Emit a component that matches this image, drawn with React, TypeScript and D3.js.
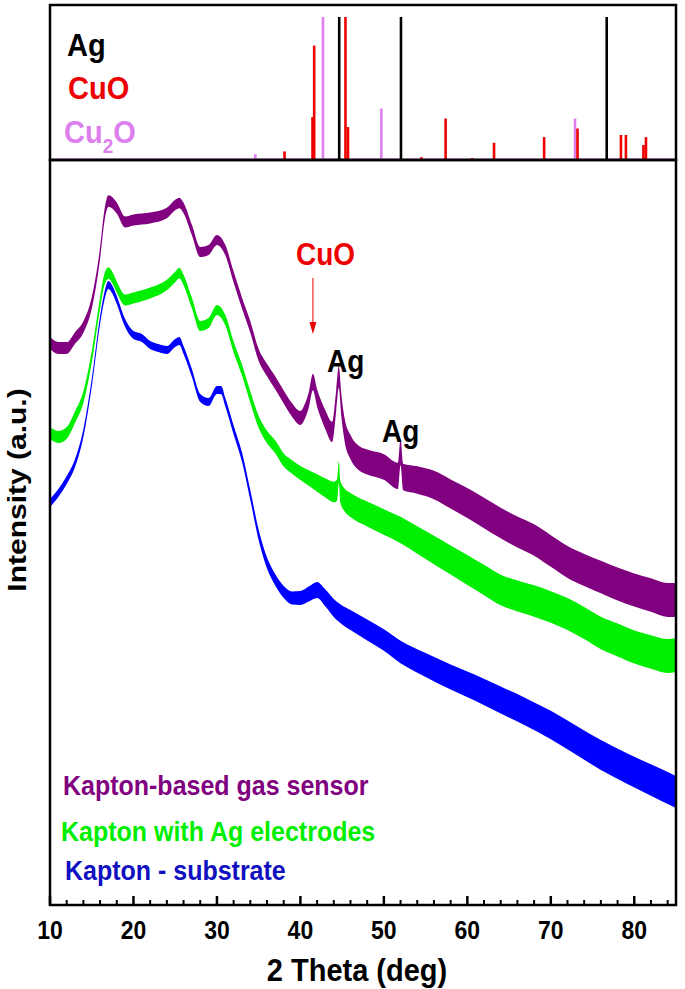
import React from "react";
import * as d3 from "d3";

// ---------- data (2θ in degrees, intensity in a.u.) ----------
const purpleX = [10, 11, 12, 13, 14, 15, 16, 16.5, 17, 17.5, 18, 19, 20, 22, 24, 25, 25.5, 26, 27, 28, 29, 30, 31, 32, 33, 34, 35, 36, 37, 38, 39, 40, 40.5, 41, 41.5, 42, 42.5, 43, 43.8, 44.3, 44.6, 44.9, 45.3, 46, 47, 48, 50, 51.7, 52, 52.3, 54, 56, 58, 60, 62, 64, 66, 68, 70, 72, 74, 76, 78, 80, 82, 84, 85];
const purpleY = [343, 348, 348, 338, 327, 303, 253, 217, 201, 203, 208, 222, 220, 218, 213, 205, 203, 208, 230, 252, 250, 240, 250, 277, 303, 327, 355, 370, 383, 397, 410, 418, 412, 400, 382, 398, 410, 420, 432, 400, 377, 405, 430, 447, 458, 462, 467, 476, 452, 477, 480, 485, 494, 503, 513, 523, 532, 540, 551, 562, 570, 577, 584, 590, 595, 600, 600].map((v) => 905 - v);
const purpleNoiseX = [10, 30, 40, 46, 60, 85];
const purpleNoise = [6, 5, 7, 12, 15, 17];

const greenX = [10, 11, 12, 13, 14, 15, 16, 16.5, 17, 17.5, 18, 19, 20, 22, 24, 25, 25.5, 26, 27, 28, 29, 30, 31, 32, 33, 34, 35, 36, 37, 38, 39, 40, 41, 42, 43, 44, 44.4, 44.6, 44.8, 45.3, 46, 48, 50, 52, 54, 56, 58, 60, 62, 64, 66, 68, 70, 72, 74, 76, 78, 80, 82, 84, 85];
const greenY = [433, 437, 433, 417, 397, 357, 303, 280, 273, 278, 287, 300, 298, 293, 285, 277, 273, 280, 303, 326, 323, 310, 320, 347, 370, 397, 422, 437, 447, 460, 467, 473, 478, 483, 488, 492, 490, 472, 492, 500, 505, 514, 522, 530, 540, 550, 560, 570, 580, 590, 596, 601, 607, 614, 623, 633, 640, 647, 652, 656, 655].map((v) => 905 - v);
const greenNoiseX = [10, 30, 40, 46, 60, 85];
const greenNoise = [6, 5, 7, 12, 15, 17];

const blueX = [10, 11, 12, 13, 14, 15, 16, 16.5, 17, 17.5, 18, 19, 20, 21, 22, 23, 24, 25, 25.5, 26, 27, 28, 29, 30, 30.5, 31, 32, 33, 34, 35, 36, 37, 38, 39, 40, 41, 42, 43, 44, 45, 46, 48, 50, 52, 55, 58, 61, 64, 67, 70, 73, 76, 79, 82, 85];
const blueY = [503, 493, 480, 463, 433, 383, 320, 297, 285, 290, 300, 323, 335, 338, 345, 348, 350, 343, 341, 350, 373, 398, 402, 390, 390, 402, 430, 457, 495, 535, 563, 580, 592, 598, 598, 594, 590, 598, 608, 615, 620, 630, 640, 652, 665, 677, 688, 700, 712, 725, 740, 755, 768, 780, 792].map((v) => 905 - v);
const blueNoiseX = [10, 30, 38, 46, 60, 85];
const blueNoise = [4, 4, 6, 10, 13, 16];

// reference stick patterns (position, relative intensity)
const agPos = [44.65, 52.05, 76.7];
const agInt = [100, 100, 100];
const cuoPos = [38.1, 41.45, 41.65, 45.4, 45.7, 54.5, 57.4, 60.6, 63.2, 69.2, 73.2, 78.4, 79.0, 81.1, 81.4];
const cuoInt = [6, 30, 80, 100, 23, 2, 29, 1.4, 12, 16, 22, 17.5, 17.5, 10.5, 16];
const cu2oPos = [34.6, 42.7, 49.7, 72.9];
const cu2oInt = [4, 100, 36, 29];

const xTicks = [10, 20, 30, 40, 50, 60, 70, 80];
const legendLabels = ["Kapton-based gas sensor", "Kapton with Ag electrodes", "Kapton - substrate"];

const PURPLE = "#800080";
const GREEN = "#00ee00";
const BLUE = "#0000ff";
const RED = "#ee0000";
const PINK = "#dd80ee";

const W = 685;
const H = 989;
const L = 50;
const R = 676;
const TOP = 5;
const MID = 160;
const BOT = 905;
const FONT = "'Liberation Sans', Arial, Helvetica, sans-serif";
const SY = 1.1; // slight vertical stretch of the lettering

function T(props: { x: number; y: number; size: number; fill?: string; anchor?: string; children: React.ReactNode }) {
  return (
    <text
      transform={`translate(${props.x},${props.y}) scale(1,${SY})`}
      fontSize={props.size}
      fontWeight="bold"
      fill={props.fill || "#000"}
      textAnchor={props.anchor || "start"}
    >
      {props.children}
    </text>
  );
}

export default function App() {
  const x = d3.scaleLinear().domain([10, 85]).range([L, R]);
  const y = d3.scaleLinear().domain([0, 743]).range([BOT, MID + 2]);
  const yTop = d3.scaleLinear().domain([0, 100]).range([MID, 17]);

  const band = (xs: number[], ys: number[], nx: number[], nv: number[]) => {
    const hw = d3.scaleLinear().domain(nx).range(nv);
    const pts = xs.map((d, i) => [d, ys[i]] as [number, number]);
    return d3
      .area<[number, number]>()
      .x((d) => x(d[0]))
      .y0((d) => y(d[1]) + hw(d[0]))
      .y1((d) => y(d[1]) - hw(d[0]))
      .curve(d3.curveMonotoneX)(pts) as string;
  };

  const minorTicks = d3.range(10, 86, 2).filter((t) => t % 10 !== 0);

  const sticks = (pos: number[], ints: number[], color: string, key: string) =>
    pos.map((p, i) => (
      <line key={key + i} x1={x(p)} x2={x(p)} y1={yTop(0)} y2={yTop(ints[i])} stroke={color} strokeWidth={2.6} />
    ));

  return (
    <svg width={W} height={H} style={{ position: "absolute", left: 0, top: 0, background: "#fff" }} fontFamily={FONT}>
      <defs>
        <clipPath id="main">
          <rect x={L} y={MID} width={R - L} height={BOT - MID} />
        </clipPath>
      </defs>
      {/* top stick panel */}
      <line x1={L} x2={R} y1={MID - 1} y2={MID - 1} stroke={PINK} strokeWidth={1} />
      {sticks(cu2oPos, cu2oInt, PINK, "p")}
      {sticks(cuoPos, cuoInt, RED, "r")}
      {sticks(agPos, agInt, "#000", "a")}
      <rect x={L} y={TOP} width={R - L} height={MID - TOP} fill="none" stroke="#000" strokeWidth={2.5} />
      <T x={67} y={56} size={29}>Ag</T>
      <T x={68} y={99} size={29} fill={RED}>CuO</T>
      <T x={64} y={143} size={29} fill={PINK}>
        Cu<tspan fontSize={19} dy={9}>2</tspan><tspan dy={-9}>O</tspan>
      </T>

      {/* main panel curves */}
      <g clipPath="url(#main)">
        <path d={band(purpleX, purpleY, purpleNoiseX, purpleNoise)} fill={PURPLE} />
        <path d={band(greenX, greenY, greenNoiseX, greenNoise)} fill={GREEN} />
        <path d={band(blueX, blueY, blueNoiseX, blueNoise)} fill={BLUE} />
      </g>

      {/* annotations */}
      <T x={296} y={265} size={28} fill={RED}>CuO</T>
      <line x1={x(41.5)} x2={x(41.5)} y1={278} y2={324} stroke={RED} strokeWidth={1} />
      <path d={`M${x(41.5) - 3.5},${322} L${x(41.5) + 3.5},${322} L${x(41.5)},${334} Z`} fill={RED} />
      <T x={327} y={372} size={28}>Ag</T>
      <T x={382} y={442} size={28}>Ag</T>

      {/* legend */}
      <T x={63} y={795} size={25} fill={PURPLE}>{legendLabels[0]}</T>
      <T x={61} y={841} size={25} fill={GREEN}>{legendLabels[1]}</T>
      <T x={65} y={880} size={25} fill="#1010c0">{legendLabels[2]}</T>

      {/* frame and ticks */}
      <rect x={L} y={MID} width={R - L} height={BOT - MID} fill="none" stroke="#000" strokeWidth={2.5} />
      {xTicks.map((t) => (
        <g key={"M" + t}>
          <line x1={x(t)} x2={x(t)} y1={BOT} y2={BOT - 9} stroke="#000" strokeWidth={2.5} />
          <T x={x(t)} y={939} size={23} anchor="middle">{t}</T>
        </g>
      ))}
      {minorTicks.map((t) => (
        <line key={"m" + t} x1={x(t)} x2={x(t)} y1={BOT} y2={BOT - 5} stroke="#000" strokeWidth={2} />
      ))}
      <T x={357} y={981} size={29} anchor="middle">2 Theta (deg)</T>
      <text
        transform={`translate(26,${490}) rotate(-90) scale(1.2,1)`}
        fontSize={25}
        fontWeight="bold"
        textAnchor="middle"
      >
        Intensity (a.u.)
      </text>
    </svg>
  );
}
